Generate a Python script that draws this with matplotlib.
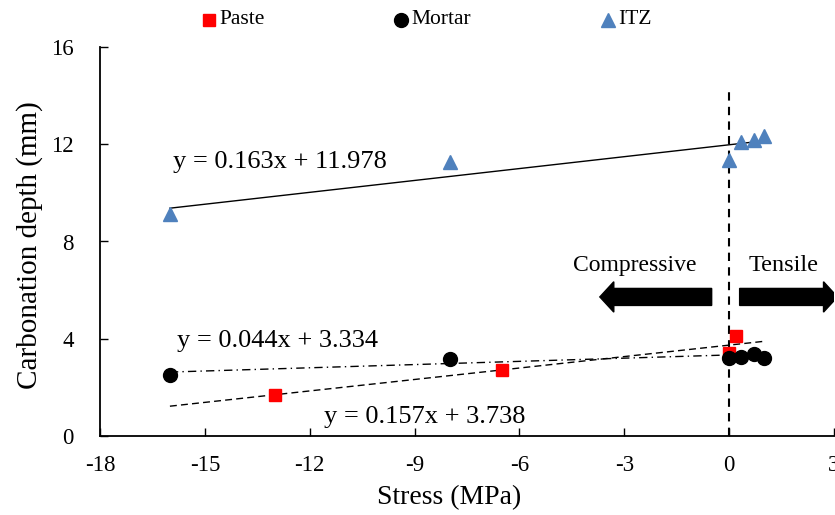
import matplotlib
matplotlib.use("Agg")
import matplotlib.pyplot as plt
from matplotlib.lines import Line2D
import numpy as np

plt.rcParams['font.family'] = ['Liberation Serif', 'DejaVu Serif']
plt.rcParams['axes.unicode_minus'] = False

# data
paste_x = [-13, -6.5, 0, 0.2]
paste_y = [1.68, 2.72, 3.4, 4.1]
mortar_x = [-16, -8, 0, 0.35, 0.7, 1.0]
mortar_y = [2.52, 3.15, 3.22, 3.25, 3.38, 3.22]
itz_x = [-16, -8, 0, 0.35, 0.7, 1.0]
itz_y = [9.15, 11.25, 11.35, 12.08, 12.18, 12.33]

# linear fits shown on the chart (slope, intercept)
fit_itz = (0.163, 11.978)
fit_mortar = (0.044, 3.334)
fit_paste = (0.157, 3.738)

fig = plt.figure(figsize=(8.35, 5.15), dpi=100)
ax = fig.add_axes([100/835, 79/515, 734/835, 389/515])

xf = np.array([-16, 1])
ax.plot(xf, fit_itz[0]*xf + fit_itz[1], color='black', lw=1)
ax.plot(xf, fit_mortar[0]*xf + fit_mortar[1], color='black', lw=1, linestyle=(0, (6, 3, 1, 3)))
ax.plot(xf, fit_paste[0]*xf + fit_paste[1], color='black', lw=1, linestyle=(0, (5, 3)))

ax.plot([0, 0], [0, 14.4], color='black', lw=1.5, linestyle=(0, (4, 3)))

ax.plot(paste_x, paste_y, 's', color='#ff0000', ms=9, zorder=3)
ax.plot(mortar_x, mortar_y, 'o', color='black', ms=10, zorder=4)
ax.plot(itz_x, itz_y, '^', color='#4f81bd', ms=10, zorder=3)

ax.text(-15.9, 11.25, 'y = 0.163x + 11.978', fontsize=19, va='center')
ax.text(-15.8, 3.9, 'y = 0.044x + 3.334', fontsize=19, va='center')
ax.text(-11.6, 0.8, 'y = 0.157x + 3.738', fontsize=19, va='center')

ax.text(-2.69, 7.0, 'Compressive', fontsize=17, ha='center', va='center')
ax.text(1.55, 7.0, 'Tensile', fontsize=17.5, ha='center', va='center')
ax.arrow(-0.5, 5.72, -2.8, 0, width=0.7, head_width=1.25, head_length=0.4,
         length_includes_head=False, color='black', clip_on=True)
ax.arrow(0.3, 5.72, 2.4, 0, width=0.7, head_width=1.25, head_length=0.4,
         length_includes_head=False, color='black', clip_on=True)

ax.set_xlim(-18, 3)
ax.set_ylim(0, 16)
ax.set_xticks(np.arange(-18, 4, 3))
ax.set_yticks(np.arange(0, 17, 4))
ax.tick_params(direction='in', length=6, labelsize=16.5, width=1)
ax.tick_params(axis='y', pad=19)
ax.tick_params(axis='x', pad=14)
ax.spines['top'].set_visible(False)
ax.spines['right'].set_visible(False)
ax.spines['left'].set_linewidth(1.3)
ax.spines['bottom'].set_linewidth(1.3)
ax.set_xlabel('Stress (MPa)', fontsize=20, labelpad=6)
ax.xaxis.label.set_x((449 - 100) / 734)
ax.set_ylabel('Carbonation depth (mm)', fontsize=21, labelpad=6)
ax.yaxis.label.set_y((436 - 245) / 389)

# legend row at the top
ly = 1 - 20/515
legend_items = [('Paste', 's', '#ff0000', 9, 209), ('Mortar', 'o', 'black', 10, 401),
                ('ITZ', '^', '#4f81bd', 10, 608)]
for name, mk, col, size, px in legend_items:
    fig.add_artist(Line2D([px/835], [ly], marker=mk, color=col, ms=size,
                          linestyle='none', transform=fig.transFigure))
    fig.text((px + 10)/835, ly, name, fontsize=15.5, va='center', ha='left')

fig.savefig('out.png', dpi=100)
